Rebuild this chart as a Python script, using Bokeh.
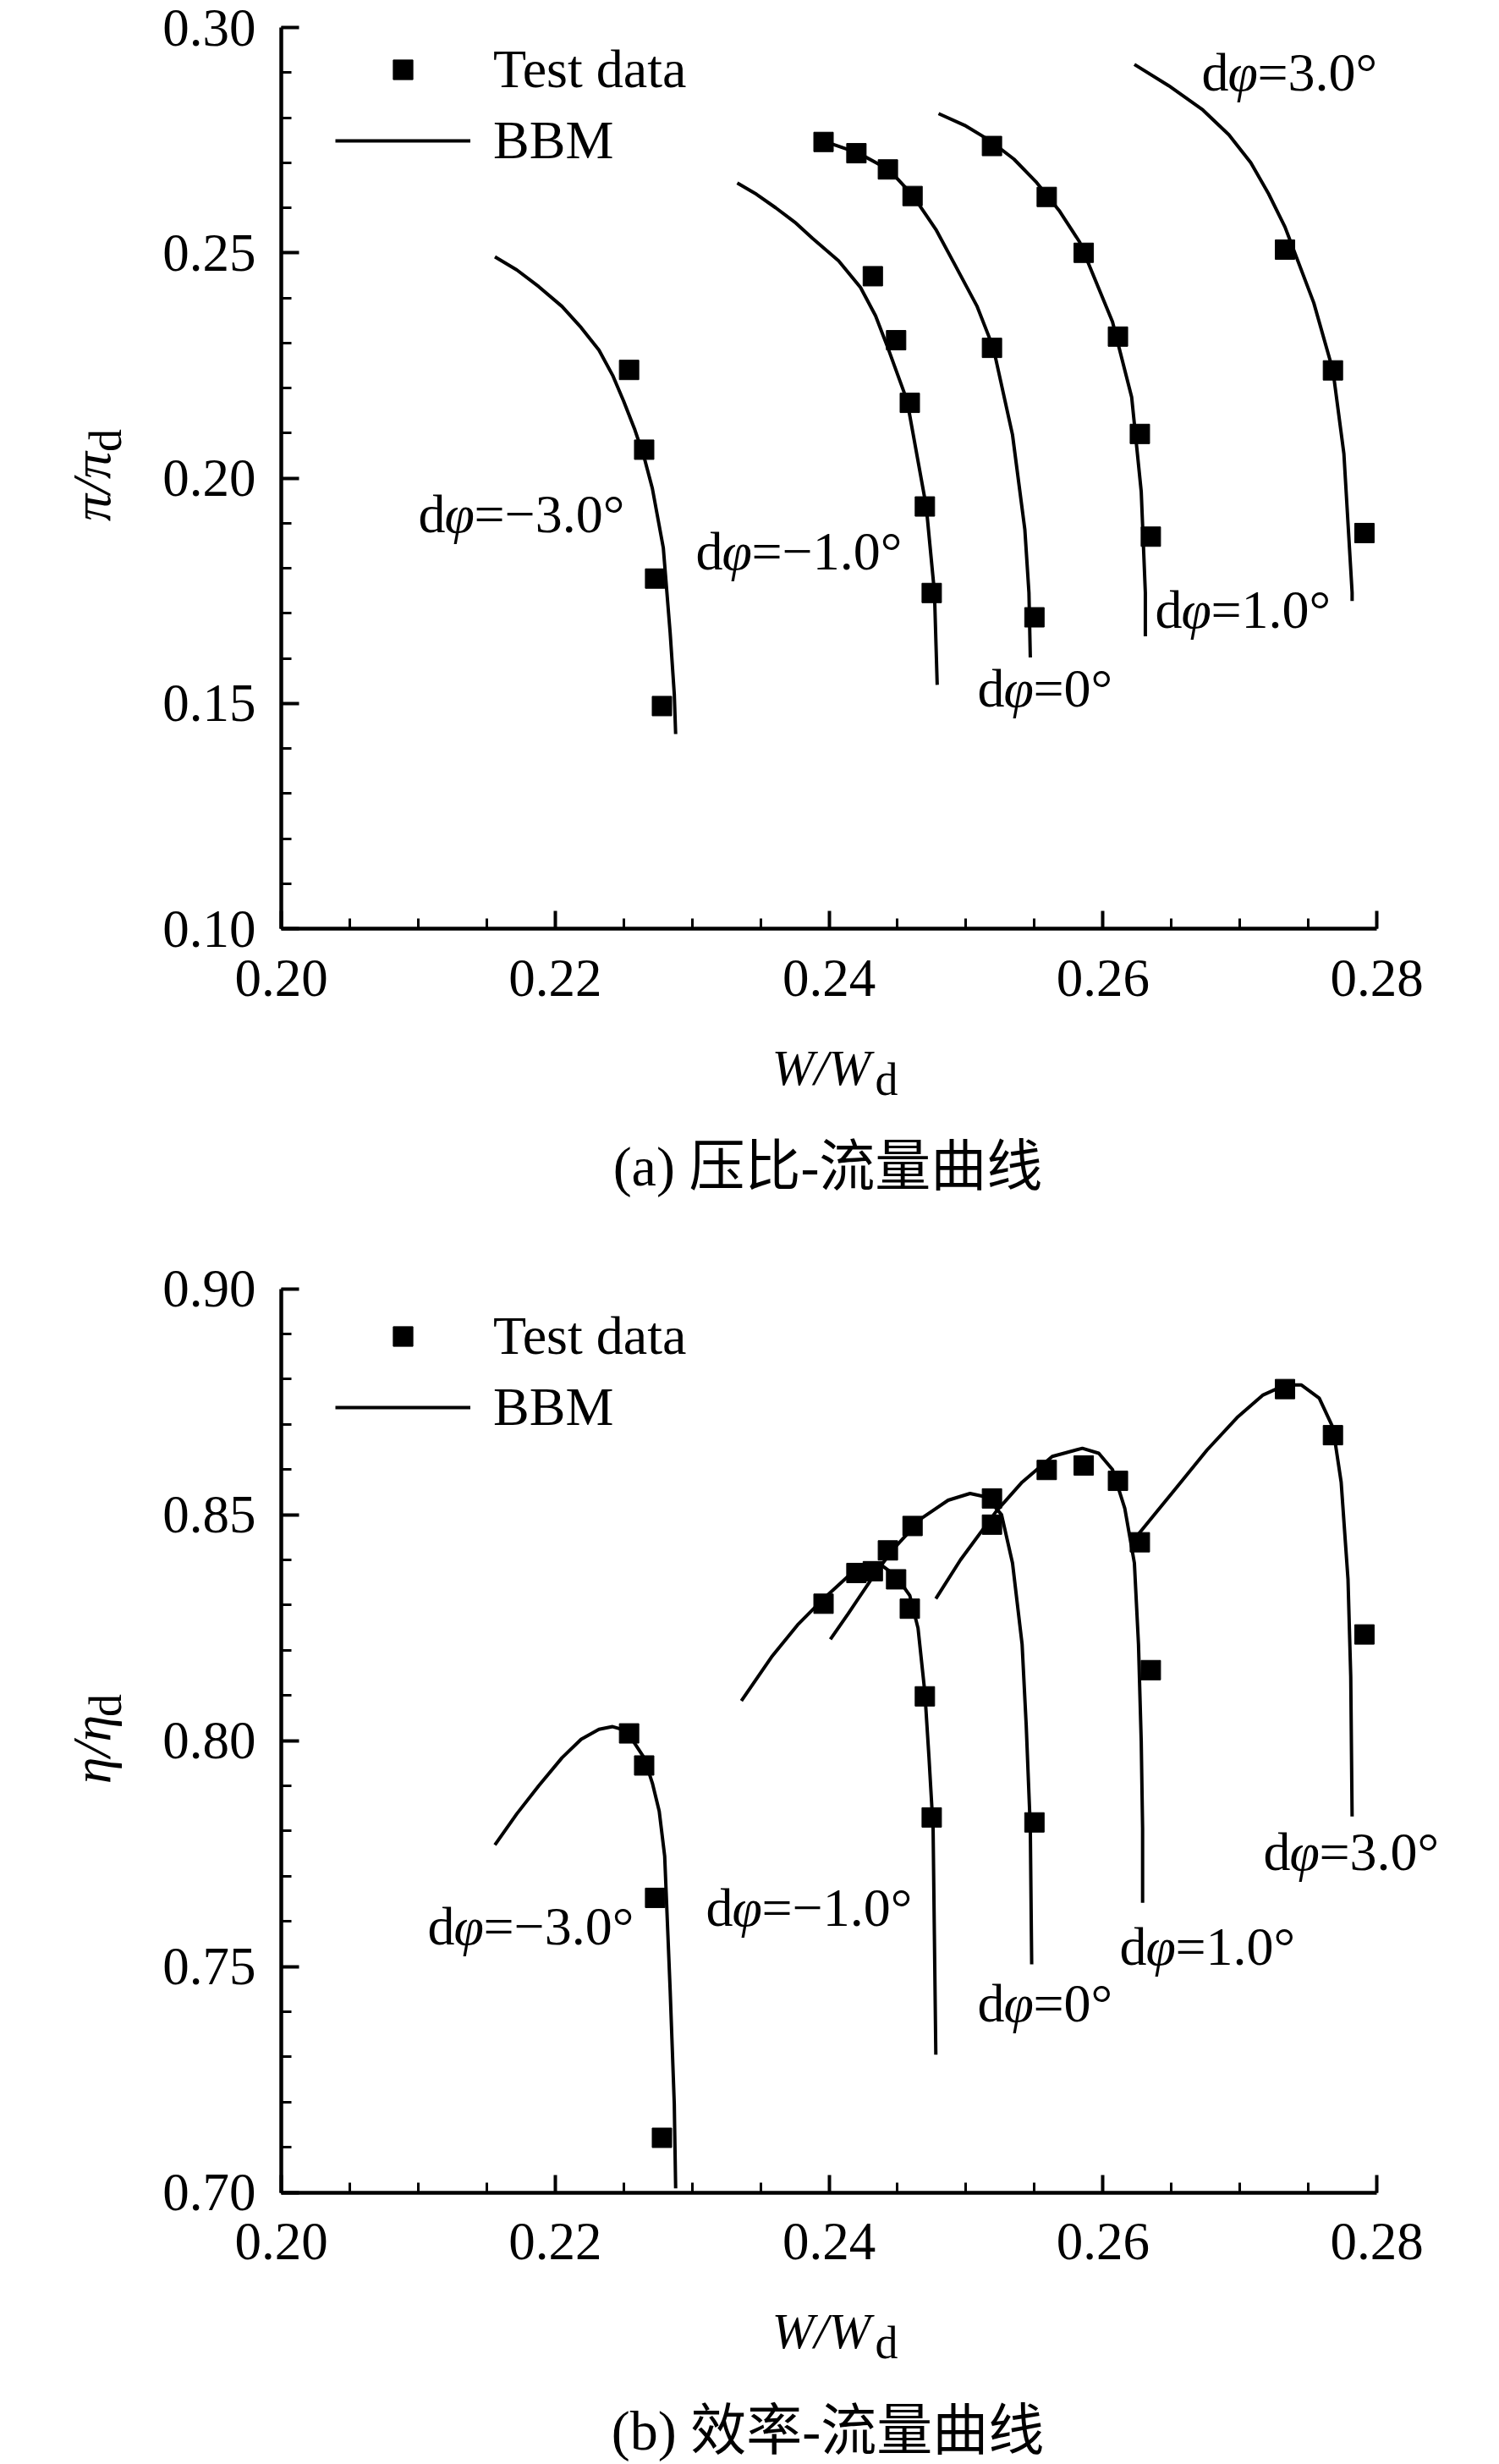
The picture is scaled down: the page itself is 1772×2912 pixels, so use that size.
import math
from bokeh.plotting import figure
from bokeh.models import (Range1d, FixedTicker, PrintfTickFormatter, Label, Legend,
                          LegendItem, LinearAxis)
from bokeh.layouts import column
from bokeh.embed import file_html
from bokeh.resources import INLINE

# ---------------- data ----------------
ANGLE_TEXT = ["\u22123.0", "\u22121.0", "0", "1.0", "3.0"]

# test data (W/Wd shared by both panels)
W_TEST_M3 = [0.2254, 0.2265, 0.2273, 0.2278]
PR_TEST_M3 = [0.2240, 0.2063, 0.1777, 0.1494]
ETA_TEST_M3 = [0.8016, 0.7945, 0.7652, 0.7121]

W_TEST_M1 = [0.2432, 0.2449, 0.2459, 0.2470, 0.2475]
PR_TEST_M1 = [0.2448, 0.2306, 0.2167, 0.1937, 0.1745]
ETA_TEST_M1 = [0.8375, 0.8357, 0.8292, 0.8098, 0.7830]

W_TEST_0 = [0.2396, 0.2420, 0.2443, 0.2461, 0.2519, 0.2550]
PR_TEST_0 = [0.2746, 0.2721, 0.2685, 0.2626, 0.2289, 0.1691]
ETA_TEST_0 = [0.8303, 0.8371, 0.8421, 0.8475, 0.8536, 0.7819]

W_TEST_P1 = [0.2519, 0.2559, 0.2586, 0.2611, 0.2627, 0.2635]
PR_TEST_P1 = [0.2737, 0.2624, 0.2500, 0.2314, 0.2098, 0.1870]
ETA_TEST_P1 = [0.8478, 0.8599, 0.8609, 0.8575, 0.8439, 0.8156]

W_TEST_P3 = [0.2733, 0.2768, 0.2791]
PR_TEST_P3 = [0.2507, 0.2239, 0.1878]
ETA_TEST_P3 = [0.8778, 0.8676, 0.8235]

# BBM model curves, pressure ratio
W_BBM_PR_M3 = [0.2156, 0.2172, 0.2188, 0.2205, 0.2219, 0.2232, 0.2242, 0.2250, 0.2258,
               0.2265, 0.2271, 0.2279, 0.2284, 0.2287, 0.2288]
PR_BBM_M3 = [0.2491, 0.2462, 0.2425, 0.2381, 0.2334, 0.2284, 0.2228, 0.2171, 0.2109,
             0.2046, 0.1977, 0.1845, 0.1656, 0.1521, 0.1432]
W_BBM_PR_M1 = [0.2333, 0.2347, 0.2361, 0.2375, 0.2388, 0.2407, 0.2423, 0.2434, 0.2443,
               0.2457, 0.2471, 0.2477, 0.2479]
PR_BBM_M1 = [0.2655, 0.2630, 0.2600, 0.2568, 0.2532, 0.2482, 0.2423, 0.2360, 0.2289,
             0.2172, 0.1937, 0.1746, 0.1541]
W_BBM_PR_0 = [0.2394, 0.2421, 0.2444, 0.2461, 0.2478, 0.2492, 0.2508, 0.2520, 0.2534,
              0.2543, 0.2546, 0.2547]
PR_BBM_0 = [0.2750, 0.2722, 0.2684, 0.2628, 0.2552, 0.2473, 0.2382, 0.2289, 0.2096,
            0.1886, 0.1746, 0.1602]
W_BBM_PR_P1 = [0.2480, 0.2499, 0.2517, 0.2535, 0.2551, 0.2568, 0.2583, 0.2607, 0.2621,
               0.2628, 0.2631, 0.2631]
PR_BBM_P1 = [0.2809, 0.2783, 0.2750, 0.2708, 0.2658, 0.2594, 0.2524, 0.2347, 0.2180,
             0.1970, 0.1746, 0.1649]
W_BBM_PR_P3 = [0.2623, 0.2648, 0.2673, 0.2692, 0.2708, 0.2721, 0.2733, 0.2754, 0.2768,
               0.2776, 0.2782, 0.2782]
PR_BBM_P3 = [0.2918, 0.2871, 0.2817, 0.2762, 0.2700, 0.2631, 0.2557, 0.2389, 0.2239,
             0.2054, 0.1746, 0.1727]

# BBM model curves, efficiency
W_BBM_ETA_M3 = [0.2156, 0.2172, 0.2188, 0.2205, 0.2219, 0.2232, 0.2242, 0.2252, 0.2265,
                0.2271, 0.2276, 0.2280, 0.2284, 0.2287, 0.2288]
ETA_BBM_M3 = [0.7769, 0.7838, 0.7900, 0.7962, 0.8003, 0.8025, 0.8031, 0.8022, 0.7962,
              0.7906, 0.7844, 0.7744, 0.7447, 0.7196, 0.7009]
W_BBM_ETA_M1 = [0.2336, 0.2358, 0.2377, 0.2396, 0.2414, 0.2427, 0.2438, 0.2449, 0.2459,
                0.2465, 0.2470, 0.2473, 0.2476, 0.2478]
ETA_BBM_M1 = [0.8088, 0.8185, 0.8256, 0.8314, 0.8364, 0.8385, 0.8389, 0.8364, 0.8321,
              0.8249, 0.8106, 0.7963, 0.7806, 0.7305]
W_BBM_ETA_0 = [0.2401, 0.2414, 0.2430, 0.2446, 0.2468, 0.2487, 0.2503, 0.2515, 0.2526,
               0.2534, 0.2541, 0.2544, 0.2547, 0.2548]
ETA_BBM_0 = [0.8224, 0.8281, 0.8353, 0.8421, 0.8493, 0.8532, 0.8547, 0.8539, 0.8500,
             0.8393, 0.8213, 0.8034, 0.7806, 0.7505]
W_BBM_ETA_P1 = [0.2478, 0.2496, 0.2522, 0.2541, 0.2563, 0.2585, 0.2597, 0.2607, 0.2616,
                0.2623, 0.2626, 0.2628, 0.2629, 0.2629]
ETA_BBM_P1 = [0.8314, 0.8400, 0.8507, 0.8572, 0.8629, 0.8647, 0.8636, 0.8600, 0.8514,
              0.8393, 0.8213, 0.7998, 0.7806, 0.7641]
W_BBM_ETA_P3 = [0.2626, 0.2651, 0.2676, 0.2698, 0.2717, 0.2733, 0.2745, 0.2758, 0.2768,
                0.2774, 0.2779, 0.2781, 0.2782]
ETA_BBM_P3 = [0.8457, 0.8550, 0.8643, 0.8715, 0.8765, 0.8787, 0.8787, 0.8758, 0.8693,
              0.8572, 0.8357, 0.8142, 0.7832]

# axes
X_MAJOR = [0.20, 0.22, 0.24, 0.26, 0.28]
X_MINOR = [0.20 + 0.005 * i for i in range(17)]
PR_MAJOR = [0.10, 0.15, 0.20, 0.25, 0.30]
PR_MINOR = [0.10 + 0.01 * i for i in range(21)]
ETA_MAJOR = [0.70, 0.75, 0.80, 0.85, 0.90]
ETA_MINOR = [0.70 + 0.01 * i for i in range(21)]

CAPTION_A = "(a) \u538b\u6bd4-\u6d41\u91cf\u66f2\u7ebf"
CAPTION_B = "(b) \u6548\u7387-\u6d41\u91cf\u66f2\u7ebf"

SERIF = "Liberation Serif"
MIXED = "'Liberation Serif', 'Noto Sans CJK SC'"

FIG_W = 1772
FIG_H = 1456

# ---------------- layout helpers (reference pixel -> data) ----------------
X0_PX, X1_PX = 332.0, 1627.0


def rx(px):
    return 0.20 + (px - X0_PX) * 0.08 / (X1_PX - X0_PX)


def make_ry(ytop, ybot, top_px, bot_px):
    def ry(py):
        return ytop - (py - top_px) * (ytop - ybot) / (bot_px - top_px)
    return ry


def add_text(p, x, y, text, size="64px", style="normal", align="left",
             baseline="middle", angle=0.0, x_offset=0, font=SERIF):
    p.add_layout(Label(x=x, y=y, text=text, text_font=font, text_font_size=size,
                       text_font_style=style, text_align=align, text_baseline=baseline,
                       angle=angle, x_offset=x_offset, text_color="black"))


def dphi_label(p, x, y, tail):
    add_text(p, x, y, "d")
    add_text(p, x, y, "\u03c6", style="italic", x_offset=31)
    add_text(p, x, y, "=" + tail + "\u00b0", x_offset=66)


def make_panel(ymin, ymax, ymajor, yminor, fig_top_px, frame_top_px, frame_bot_px):
    ry = make_ry(ymax, ymin, frame_top_px, frame_bot_px)
    p = figure(width=FIG_W, height=FIG_H, output_backend="svg", toolbar_location=None,
               title=None, x_axis_location=None, y_axis_location=None,
               x_range=Range1d(rx(0), rx(FIG_W)),
               y_range=Range1d(ry(fig_top_px + FIG_H), ry(fig_top_px)),
               min_border_left=0, min_border_right=0, min_border_top=0,
               min_border_bottom=0)
    p.outline_line_color = None
    p.background_fill_color = "white"
    p.border_fill_color = "white"
    p.xgrid.visible = False
    p.ygrid.visible = False
    xa = LinearAxis(fixed_location=ymin, bounds=(0.20, 0.28),
                    ticker=FixedTicker(ticks=X_MAJOR, minor_ticks=X_MINOR))
    ya = LinearAxis(fixed_location=0.20, bounds=(ymin, ymax),
                    ticker=FixedTicker(ticks=ymajor, minor_ticks=yminor))
    for ax in (xa, ya):
        ax.formatter = PrintfTickFormatter(format="%.2f")
        ax.axis_line_width = 4.5
        ax.axis_line_color = "black"
        ax.major_tick_line_width = 4
        ax.minor_tick_line_width = 3
        ax.major_tick_line_color = "black"
        ax.minor_tick_line_color = "black"
        ax.major_tick_in = 21
        ax.major_tick_out = 0
        ax.minor_tick_in = 12
        ax.minor_tick_out = 0
        ax.major_label_text_font = SERIF
        ax.major_label_text_font_size = "63px"
        ax.major_label_text_color = "black"
    xa.major_label_standoff = 37
    ya.major_label_standoff = 30
    p.add_layout(xa, "below")
    p.add_layout(ya, "left")
    return p, ry


def build(p, ry, fig_top_px, w_bbm, y_bbm, w_test, y_test, label_pos, ylab_main,
          ylab_center, ylab_sub_center, axis_px, caption, legend_top_px):
    ml = p.multi_line(xs=w_bbm, ys=y_bbm, line_color="black", line_width=4)
    xs = [v for arr in w_test for v in arr]
    ys = [v for arr in y_test for v in arr]
    sc = p.scatter(xs, ys, marker="square", size=23, fill_color="black",
                   line_color="black")
    for (px, py), tail in zip(label_pos, ANGLE_TEXT):
        dphi_label(p, rx(px), ry(py - 4), tail)
    legend_h = 2 * 73 + 10
    legend = Legend(items=[LegendItem(label="Test data", renderers=[sc]),
                           LegendItem(label="BBM", renderers=[ml])],
                    location=(396, FIG_H - (legend_top_px - fig_top_px) - legend_h),
                    glyph_width=160, glyph_height=58,
                    label_height=58, label_standoff=27, spacing=10, padding=0, margin=0,
                    border_line_color=None, background_fill_alpha=0.0,
                    label_text_font=SERIF, label_text_font_size="64px",
                    label_text_color="black")
    p.add_layout(legend)
    # y axis label (rotated)
    add_text(p, rx(108), ry(ylab_center), ylab_main, size="64px", style="italic",
             align="center", baseline="alphabetic", angle=math.pi / 2)
    add_text(p, rx(124), ry(ylab_sub_center), "d", size="54px",
             align="center", baseline="alphabetic", angle=math.pi / 2)
    # x axis label
    add_text(p, rx(912), ry(axis_px + 164), "W/W", size="60px", style="italic",
             baseline="alphabetic")
    add_text(p, rx(1034), ry(axis_px + 178), "d", size="54px", baseline="alphabetic")
    # caption
    add_text(p, rx(978), ry(axis_px + 281), caption, size="66px", align="center",
             baseline="middle", font=MIXED)


# ---- panel (a)
p1, ry1 = make_panel(0.10, 0.30, PR_MAJOR, PR_MINOR, 0.0, 32.0, 1097.0)
build(p1, ry1, 0.0,
      [W_BBM_PR_M3, W_BBM_PR_M1, W_BBM_PR_0, W_BBM_PR_P1, W_BBM_PR_P3],
      [PR_BBM_M3, PR_BBM_M1, PR_BBM_0, PR_BBM_P1, PR_BBM_P3],
      [W_TEST_M3, W_TEST_M1, W_TEST_0, W_TEST_P1, W_TEST_P3],
      [PR_TEST_M3, PR_TEST_M1, PR_TEST_0, PR_TEST_P1, PR_TEST_P3],
      [(494, 611), (822, 655), (1155, 817), (1365, 724), (1420, 89)],
      "\u03c0/\u03c0", 574.5, 520.0, 1097.0, CAPTION_A, 46.5)

# ---- panel (b)
p2, ry2 = make_panel(0.70, 0.90, ETA_MAJOR, ETA_MINOR, 1456.0, 1522.6, 2590.6)
build(p2, ry2, 1456.0,
      [W_BBM_ETA_M3, W_BBM_ETA_M1, W_BBM_ETA_0, W_BBM_ETA_P1, W_BBM_ETA_P3],
      [ETA_BBM_M3, ETA_BBM_M1, ETA_BBM_0, ETA_BBM_P1, ETA_BBM_P3],
      [W_TEST_M3, W_TEST_M1, W_TEST_0, W_TEST_P1, W_TEST_P3],
      [ETA_TEST_M3, ETA_TEST_M1, ETA_TEST_0, ETA_TEST_P1, ETA_TEST_P3],
      [(505, 2280), (834, 2258), (1155, 2371), (1323, 2304), (1493, 2192)],
      "\u03b7/\u03b7", 2067.0, 2015.0, 2590.6, CAPTION_B, 1543.5)

layout = column(p1, p2)
open("out.html", "w").write(file_html(layout, INLINE))
